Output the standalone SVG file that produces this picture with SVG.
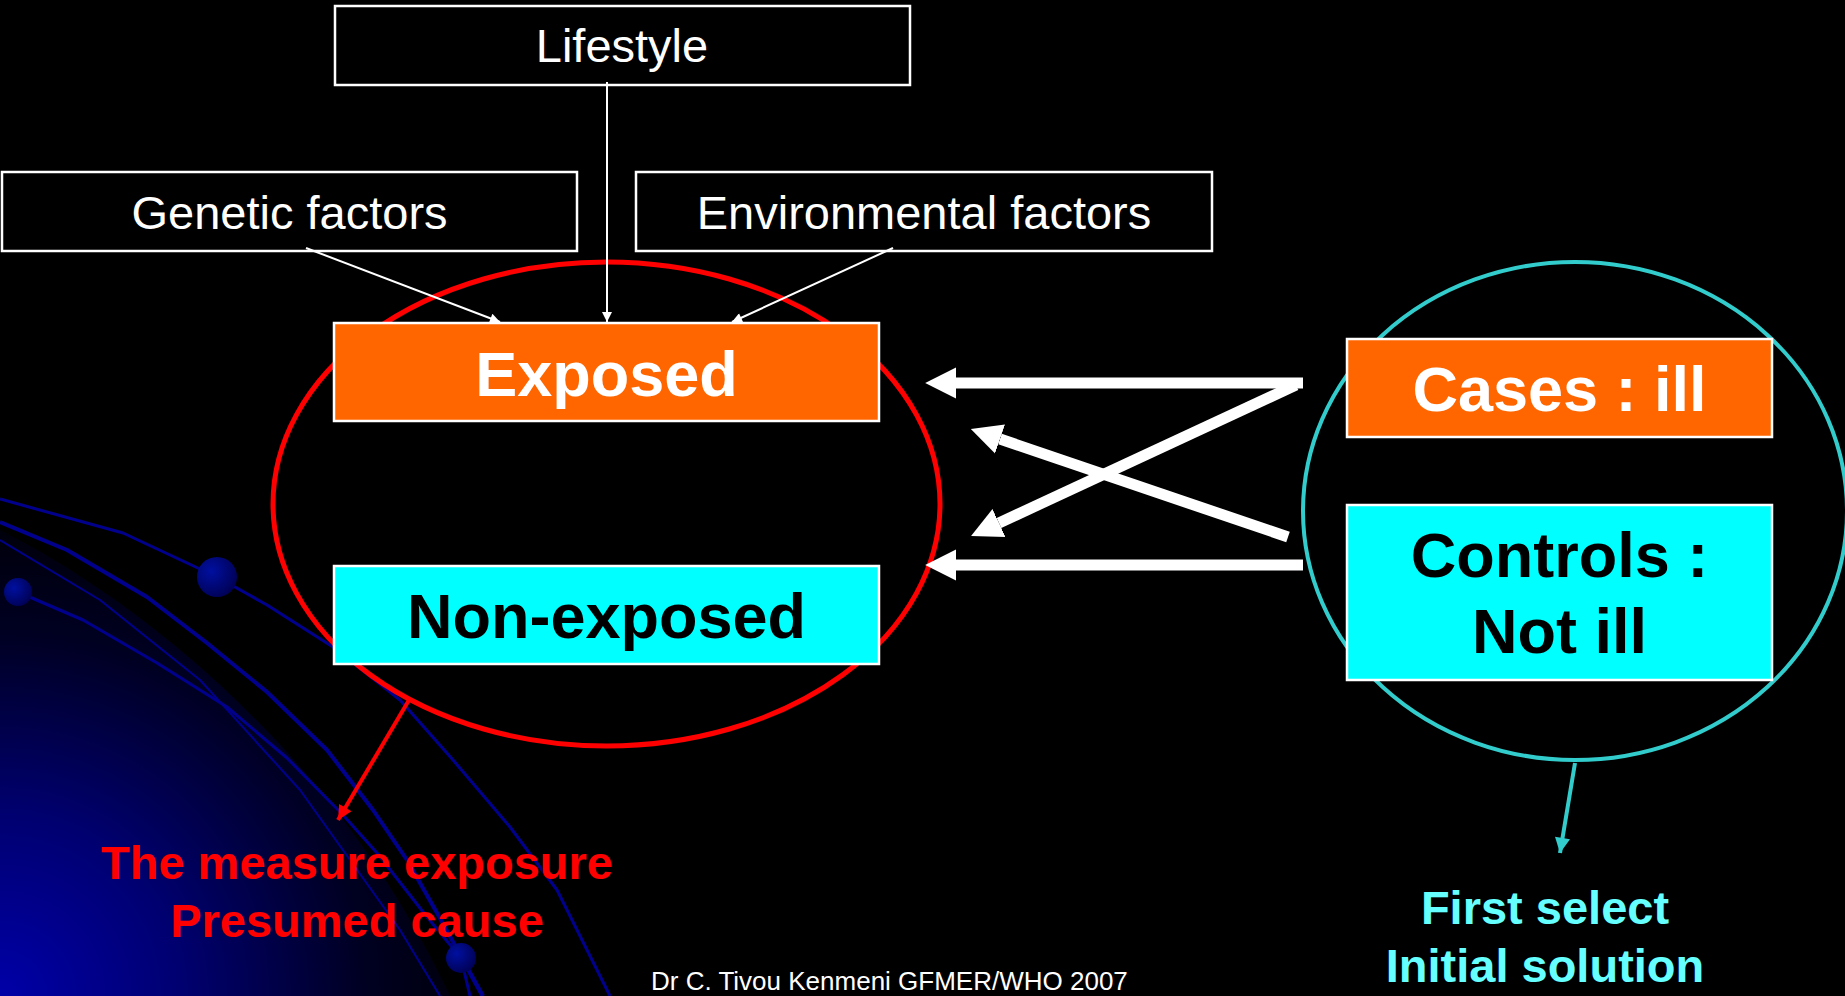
<svg xmlns="http://www.w3.org/2000/svg" width="1845" height="996" viewBox="0 0 1845 996">
<defs>
<radialGradient id="bgGlow" cx="0" cy="996" r="520" gradientUnits="userSpaceOnUse">
<stop offset="0" stop-color="#0000A8"/>
<stop offset="0.35" stop-color="#000070"/>
<stop offset="0.7" stop-color="#000022"/>
<stop offset="1" stop-color="#000000"/>
</radialGradient>
<radialGradient id="dotGrad" cx="0.35" cy="0.35" r="0.75">
<stop offset="0" stop-color="#0010A0"/>
<stop offset="1" stop-color="#000050"/>
</radialGradient>
<marker id="thinHead" viewBox="0 0 10 10" refX="10" refY="5" markerWidth="6" markerHeight="5" orient="auto" markerUnits="strokeWidth">
<path d="M0,0 L10,5 L0,10 z" fill="#FFFFFF"/>
</marker>
<marker id="bigHead" viewBox="0 0 10 10" refX="0" refY="5" markerWidth="2.8" markerHeight="2.9" orient="auto" markerUnits="strokeWidth">
<path d="M0,0 L10,5 L0,10 z" fill="#FFFFFF"/>
</marker>
<marker id="redHead" viewBox="0 0 10 10" refX="10" refY="5" markerWidth="4" markerHeight="3.6" orient="auto" markerUnits="strokeWidth">
<path d="M0,0 L10,5 L0,10 z" fill="#FF0000"/>
</marker>
<marker id="tealHead" viewBox="0 0 10 10" refX="10" refY="5" markerWidth="4" markerHeight="3.8" orient="auto" markerUnits="strokeWidth">
<path d="M0,0 L10,5 L0,10 z" fill="#33CCCC"/>
</marker>
</defs>
<style>
.box{stroke:#FFFFFF;stroke-width:2.5}
.plain{fill:#000000}
.orange{fill:#FF6600}
.cyan{fill:#00FFFF}
.lbl{font-family:"Liberation Sans",Arial,sans-serif;font-size:47px;fill:#FFFFFF;text-anchor:middle}
.big{font-family:"Liberation Sans",Arial,sans-serif;font-size:63px;font-weight:bold;text-anchor:middle}
.note{font-family:"Liberation Sans",Arial,sans-serif;font-size:47px;font-weight:bold;text-anchor:middle}
.thin{stroke:#FFFFFF;stroke-width:2;fill:none;marker-end:url(#thinHead)}
.thick{stroke:#FFFFFF;stroke-width:11;fill:none;marker-end:url(#bigHead)}
.curve{fill:none;stroke:#00008C;stroke-linejoin:round}
</style>

<g id="background">
<rect x="0" y="0" width="1845" height="996" fill="#000000"/>
<path d="M0,530 C120,590 330,740 450,996 L0,996 Z" fill="url(#bgGlow)"/>
<polyline class="curve" stroke="#000028" stroke-width="2" points="0,540 100,600 200,680 300,790 400,930 440,996"/>
<polyline class="curve" stroke-width="3" points="0,499 123,533 217,577 267,605 333,647 400,700 453,760 510,827 557,890 610,996"/>
<polyline class="curve" stroke-width="4" points="0,522 67,550 147,597 207,643 267,692 327,750 373,810 407,860 437,913 483,996"/>
<polyline class="curve" stroke-width="3" points="18,592 83,620 157,663 227,707 287,758 343,815 377,853 427,917 461,958 470,996"/>
<line class="curve" stroke-width="3" x1="461" y1="958" x2="482" y2="996"/>
<circle cx="217" cy="577" r="20" fill="url(#dotGrad)"/>
<circle cx="18" cy="592" r="14" fill="url(#dotGrad)"/>
<circle cx="461" cy="958" r="15" fill="url(#dotGrad)"/>
</g>

<g id="exposure-group">
<ellipse cx="606.5" cy="504" rx="333.5" ry="242" fill="none" stroke="#FF0000" stroke-width="5"/>
</g>
<g id="outcome-group">
<ellipse cx="1575" cy="511" rx="272" ry="249" fill="none" stroke="#33CCCC" stroke-width="4"/>
</g>

<g id="lifestyle">
<rect class="box plain" x="335" y="6" width="575" height="79"/>
<text class="lbl" x="622" y="62">Lifestyle</text>
</g>
<g id="genetic">
<rect class="box plain" x="2" y="172" width="575" height="79"/>
<text class="lbl" x="289.5" y="229">Genetic factors</text>
</g>
<g id="environmental">
<rect class="box plain" x="636" y="172" width="576" height="79"/>
<text class="lbl" x="924" y="229">Environmental factors</text>
</g>

<g id="exposed">
<rect class="box orange" x="334" y="323" width="545" height="98"/>
<text class="big" x="606.5" y="396" fill="#FFFFFF">Exposed</text>
</g>
<g id="non-exposed">
<rect class="box cyan" x="334" y="566" width="545" height="98"/>
<text class="big" x="606.5" y="638" fill="#000000">Non-exposed</text>
</g>
<g id="cases">
<rect class="box orange" x="1347" y="339" width="425" height="98"/>
<text class="big" x="1559.5" y="411" fill="#FFFFFF">Cases : ill</text>
</g>
<g id="controls">
<rect class="box cyan" x="1347" y="505" width="425" height="175"/>
<text class="big" x="1559.5" y="577" fill="#000000">Controls :</text>
<text class="big" x="1559.5" y="653" fill="#000000">Not ill</text>
</g>

<g id="connectors">
<line class="thin" x1="306" y1="248" x2="500" y2="322"/>
<line class="thin" x1="607" y1="82" x2="607" y2="322"/>
<line class="thin" x1="893" y1="248" x2="732" y2="322"/>
<line class="thick" x1="1303" y1="383" x2="956" y2="383"/>
<line class="thick" x1="1303" y1="565" x2="956" y2="565"/>
<line class="thick" x1="1296" y1="385" x2="999" y2="523"/>
<line class="thick" x1="1288" y1="537" x2="1000" y2="439"/>
<line x1="409" y1="700" x2="338" y2="820" stroke="#FF0000" stroke-width="4" marker-end="url(#redHead)"/>
<line x1="1575" y1="763" x2="1560" y2="853" stroke="#33CCCC" stroke-width="4" marker-end="url(#tealHead)"/>
</g>

<g id="cause-note">
<text class="note" x="357" y="879" fill="#FF0000">The measure exposure</text>
<text class="note" x="357" y="937" fill="#FF0000">Presumed cause</text>
</g>
<g id="selection-note">
<text class="note" x="1545" y="924" fill="#66FFFF">First select</text>
<text class="note" x="1545" y="982" fill="#66FFFF">Initial solution</text>
</g>
<g id="footer">
<text x="651" y="990" font-family="'Liberation Sans',Arial,sans-serif" font-size="26" fill="#FFFFFF">Dr C. Tivou Kenmeni GFMER/WHO 2007</text>
</g>
</svg>
